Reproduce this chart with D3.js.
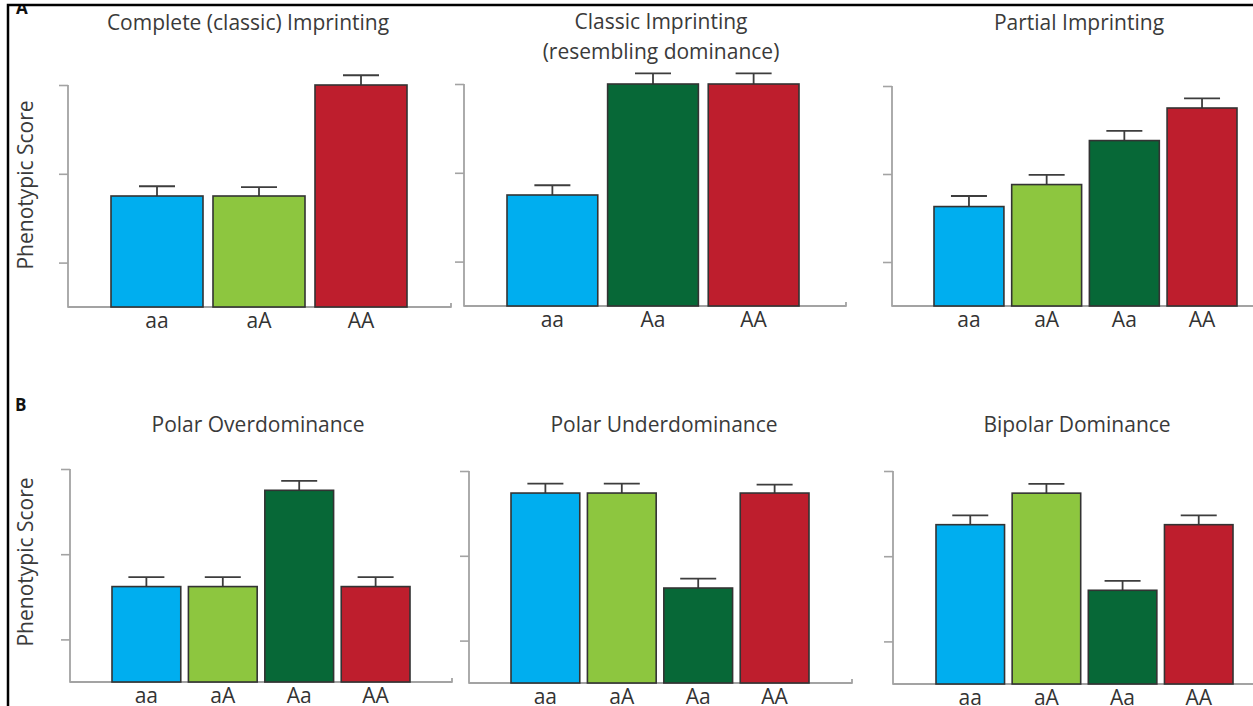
<!DOCTYPE html>
<html>
<head>
<meta charset="utf-8">
<script src="https://cdn.jsdelivr.net/npm/d3@7"></script>
<style>
  body { margin: 0; background: #fff; }
  svg { display: block; font-family: 'Open Sans', sans-serif; }
</style>
</head>
<body>
<svg></svg>
<script>
const width = 1253
const height = 706

// data (arbitrary phenotypic units, axis starts at 0.5)
const panelTitles = [
  ['Complete (classic) Imprinting'],
  ['Classic Imprinting', '(resembling dominance)'],
  ['Partial Imprinting'],
  ['Polar Overdominance'],
  ['Polar Underdominance'],
  ['Bipolar Dominance'],
]
const panelGenotypes = [
  ['aa', 'aA', 'AA'],
  ['aa', 'Aa', 'AA'],
  ['aa', 'aA', 'Aa', 'AA'],
  ['aa', 'aA', 'Aa', 'AA'],
  ['aa', 'aA', 'Aa', 'AA'],
  ['aa', 'aA', 'Aa', 'AA'],
]
const panelScores = [
  [1.75, 1.75, 3.0],
  [1.75, 3.0, 3.0],
  [1.63, 1.88, 2.38, 2.75],
  [1.62, 1.62, 2.75, 1.62],
  [2.74, 2.74, 1.62, 2.74],
  [2.37, 2.74, 1.6, 2.37],
]
const panelErrors = [
  [0.11, 0.1, 0.11],
  [0.11, 0.12, 0.12],
  [0.12, 0.11, 0.11, 0.11],
  [0.11, 0.11, 0.11, 0.11],
  [0.11, 0.11, 0.11, 0.1],
  [0.11, 0.11, 0.11, 0.11],
]
const yTicks = [1, 2, 3]
const yDomain = [0.5, 3]

const genotypeColors = {
  aa: '#00aeef',
  aA: '#8dc63f',
  Aa: '#076837',
  AA: '#be1e2d',
}

// layout of each panel: y axis position, x-axis end, bar range, vertical extent
const layout = [
  { axisX: 68, axisEnd: 451, bars: [111, 407], top: 85, base: 307, titleY: 30, titleX: 248, yLabelY: 185 },
  { axisX: 464, axisEnd: 846, bars: [507, 799], top: 84, base: 306, titleY: 29, titleX: 661 },
  { axisX: 892, axisEnd: 1260, bars: [934, 1237], top: 86, base: 306, titleY: 30, titleX: 1079 },
  { axisX: 70, axisEnd: 452, bars: [112, 410], top: 469, base: 682, titleY: 432, titleX: 258, yLabelY: 562 },
  { axisX: 469, axisEnd: 852, bars: [511, 809], top: 471, base: 683, titleY: 432, titleX: 664 },
  { axisX: 893, axisEnd: 1260, bars: [936, 1233], top: 471, base: 684, titleY: 432, titleX: 1077 },
]

const svg = d3.select('svg').attr('width', width).attr('height', height)

layout.forEach((L, i) => {
  const g = svg.append('g')
  const genotypes = panelGenotypes[i]
  const rows = genotypes.map((k, j) => ({
    key: k,
    value: panelScores[i][j],
    err: panelErrors[i][j],
  }))

  const x = d3
    .scaleBand()
    .domain(genotypes)
    .range(L.bars)
    .paddingInner(genotypes.length === 3 ? 0.098 : 0.1)
    .paddingOuter(0)
  const y = d3.scaleLinear().domain(yDomain).range([L.base, L.top])

  // y ticks (no labels)
  const yAxis = g
    .append('g')
    .attr('transform', `translate(${L.axisX},0)`)
    .call(d3.axisLeft(y).tickValues(yTicks).tickSize(9).tickFormat(''))
  yAxis.select('.domain').remove()
  yAxis.selectAll('line').attr('stroke', '#a3a3a3').attr('stroke-width', 1.6)

  // axis frame: y line down to the base, then along the bottom with a small upturn
  g.append('path')
    .attr('d', `M${L.axisX},${y(3)}V${L.base}H${L.axisEnd}V${L.base - 4}`)
    .attr('fill', 'none')
    .attr('stroke', '#a3a3a3')
    .attr('stroke-width', 1.8)
    .attr('stroke-linejoin', 'round')

  // error bars
  const eb = g.selectAll('.err').data(rows).enter().append('g').attr('class', 'err')
  eb.append('line')
    .attr('x1', (d) => x(d.key) + x.bandwidth() / 2)
    .attr('x2', (d) => x(d.key) + x.bandwidth() / 2)
    .attr('y1', (d) => y(d.value))
    .attr('y2', (d) => y(d.value + d.err))
    .attr('stroke', '#3d3d3d')
    .attr('stroke-width', 1.8)
  eb.append('line')
    .attr('x1', (d) => x(d.key) + x.bandwidth() / 2 - 18)
    .attr('x2', (d) => x(d.key) + x.bandwidth() / 2 + 18)
    .attr('y1', (d) => y(d.value + d.err))
    .attr('y2', (d) => y(d.value + d.err))
    .attr('stroke', '#3d3d3d')
    .attr('stroke-width', 1.8)

  // bars
  g.selectAll('.bar')
    .data(rows)
    .enter()
    .append('rect')
    .attr('class', 'bar')
    .attr('x', (d) => x(d.key))
    .attr('width', x.bandwidth())
    .attr('y', (d) => y(d.value))
    .attr('height', (d) => L.base - y(d.value))
    .attr('fill', (d) => genotypeColors[d.key])
    .attr('stroke', '#333')
    .attr('stroke-width', 1.6)

  // genotype labels
  g.selectAll('.cat')
    .data(rows)
    .enter()
    .append('text')
    .attr('class', 'cat')
    .attr('x', (d) => x(d.key) + x.bandwidth() / 2)
    .attr('y', L.base + 21)
    .attr('text-anchor', 'middle')
    .attr('font-size', 21)
    .attr('fill', '#333')
    .text((d) => d.key)

  // title
  g.selectAll('.title')
    .data(panelTitles[i])
    .enter()
    .append('text')
    .attr('class', 'title')
    .attr('x', L.titleX)
    .attr('y', (d, k) => L.titleY + k * 30)
    .attr('text-anchor', 'middle')
    .attr('font-size', 21)
    .attr('fill', '#3a3a3a')
    .text((d) => d)

  if (L.yLabelY) {
    g.append('text')
      .attr('transform', `translate(33,${L.yLabelY}) rotate(-90)`)
      .attr('text-anchor', 'middle')
      .attr('font-size', 21)
      .attr('fill', '#3a3a3a')
      .text('Phenotypic Score')
  }
})

// panel letters and the figure frame
svg.append('text')
  .attr('x', 16)
  .attr('y', 14)
  .attr('font-size', 17)
  .attr('font-weight', 'bold')
  .attr('fill', '#111')
  .text('A')
svg.append('rect').attr('x', 0).attr('y', 0).attr('width', width).attr('height', 4).attr('fill', '#fff')
svg.append('text')
  .attr('x', 15)
  .attr('y', 411)
  .attr('font-size', 17)
  .attr('font-weight', 'bold')
  .attr('fill', '#111')
  .text('B')

svg.append('path')
  .attr('d', `M8,${height}V5H${width}`)
  .attr('fill', 'none')
  .attr('stroke', '#000')
  .attr('stroke-width', 2.5)
</script>
</body>
</html>
